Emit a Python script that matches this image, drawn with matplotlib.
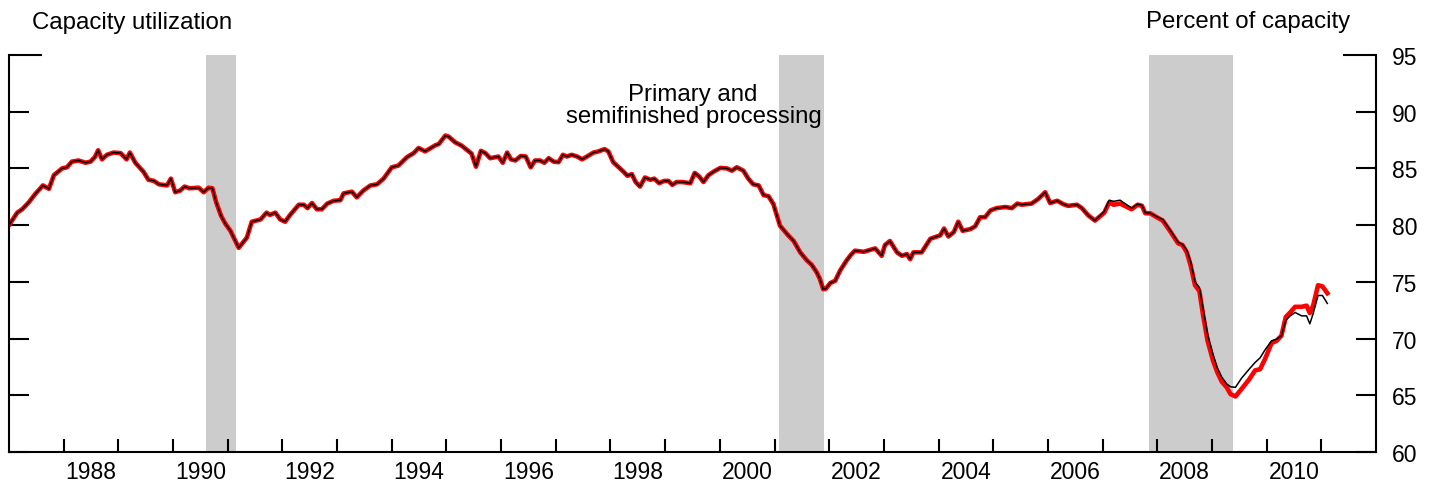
import numpy as np
import matplotlib.pyplot as plt

# capacity utilization, primary and semifinished processing (percent)
dates = [
    1987.00, 1987.15, 1987.24, 1987.36, 1987.48, 1987.62, 1987.73, 1987.82, 1987.97,
    1988.06, 1988.15, 1988.27, 1988.40, 1988.49, 1988.57, 1988.63, 1988.70, 1988.79, 1988.91,
    1989.04, 1989.15, 1989.21, 1989.31, 1989.46, 1989.55, 1989.65, 1989.74, 1989.89, 1989.96,
    1990.04, 1990.13, 1990.21, 1990.30, 1990.47, 1990.56, 1990.65, 1990.72, 1990.79, 1990.88, 1990.96,
    1991.05, 1991.20, 1991.35, 1991.44, 1991.60, 1991.71, 1991.77, 1991.87, 1991.96,
    1992.05, 1992.14, 1992.30, 1992.39, 1992.46, 1992.54, 1992.63, 1992.72, 1992.82, 1992.94,
    1993.06, 1993.12, 1993.27, 1993.36, 1993.48, 1993.61, 1993.73, 1993.85,
    1994.00, 1994.12, 1994.28, 1994.40, 1994.49, 1994.61, 1994.80, 1994.86, 1994.98,
    1995.04, 1995.16, 1995.28, 1995.46, 1995.54, 1995.63, 1995.71, 1995.80, 1995.95,
    1996.03, 1996.11, 1996.18, 1996.26, 1996.36, 1996.45, 1996.54, 1996.62, 1996.71, 1996.79, 1996.87, 1996.96,
    1997.05, 1997.13, 1997.20, 1997.29, 1997.39, 1997.48, 1997.57, 1997.69, 1997.78, 1997.89, 1997.96,
    1998.05, 1998.15, 1998.24, 1998.31, 1998.39, 1998.46, 1998.54, 1998.63, 1998.73, 1998.80, 1998.89, 1998.98,
    1999.06, 1999.13, 1999.21, 1999.31, 1999.46, 1999.54, 1999.62, 1999.70, 1999.79, 1999.88,
    2000.01, 2000.13, 2000.22, 2000.31, 2000.43, 2000.52, 2000.61, 2000.71, 2000.80, 2000.89, 2000.98,
    2001.10, 2001.25, 2001.35, 2001.47, 2001.59, 2001.68, 2001.77, 2001.83, 2001.89, 2001.94,
    2002.02, 2002.11, 2002.20, 2002.32, 2002.40, 2002.47, 2002.63, 2002.84, 2002.96,
    2003.02, 2003.11, 2003.24, 2003.33, 2003.42, 2003.48, 2003.54, 2003.69, 2003.85,
    2004.03, 2004.10, 2004.18, 2004.28, 2004.36, 2004.44, 2004.58, 2004.67, 2004.76, 2004.85, 2004.95,
    2005.06, 2005.22, 2005.34, 2005.44, 2005.52, 2005.70, 2005.82, 2005.95,
    2006.04, 2006.17, 2006.28, 2006.37, 2006.53, 2006.62, 2006.74, 2006.86,
    2007.03, 2007.12, 2007.20, 2007.32, 2007.53, 2007.64, 2007.72, 2007.78, 2007.87, 2007.99,
    2008.10, 2008.23, 2008.38, 2008.46, 2008.54, 2008.61, 2008.69, 2008.77, 2008.84, 2008.92,
    2009.02, 2009.10, 2009.18, 2009.27, 2009.34, 2009.43, 2009.54, 2009.68, 2009.79, 2009.88, 2009.97,
    2010.09, 2010.18, 2010.27, 2010.35, 2010.43, 2010.52, 2010.64, 2010.73, 2010.79, 2010.85, 2010.94,
    2011.02, 2011.11,
]

current = [
    80.0, 81.1, 81.4, 82.0, 82.75, 83.5, 83.2, 84.4, 85.0,
    85.1, 85.6, 85.7, 85.5, 85.6, 86.0, 86.6, 85.8, 86.2, 86.4,
    86.35, 85.8, 86.4, 85.5, 84.7, 84.0, 83.9, 83.6, 83.5, 84.1,
    82.9, 83.05, 83.4, 83.25, 83.3, 82.9, 83.3, 83.25, 82.0, 80.8, 80.1,
    79.5, 78.0, 78.9, 80.3, 80.5, 81.1, 80.9, 81.1, 80.5,
    80.3, 80.9, 81.8, 81.8, 81.5, 81.95, 81.4, 81.4, 81.9, 82.15,
    82.2, 82.8, 82.95, 82.45, 83.05, 83.5, 83.6, 84.1,
    85.1, 85.25, 86.0, 86.35, 86.8, 86.5, 87.05, 87.15, 87.9,
    87.8, 87.3, 87.0, 86.3, 85.15, 86.55, 86.35, 85.9, 86.05,
    85.5, 86.4, 85.8, 85.7, 86.1, 86.05, 85.1, 85.7, 85.7, 85.5, 85.9, 85.6,
    85.55, 86.2, 86.05, 86.2, 86.05, 85.8, 86.05, 86.4, 86.5, 86.7, 86.5,
    85.55, 85.1, 84.7, 84.35, 84.5, 83.8, 83.4, 84.2, 84.0, 84.1, 83.7, 83.9,
    83.9, 83.55, 83.8, 83.8, 83.7, 84.6, 84.3, 83.8, 84.4, 84.7,
    85.05, 85.0, 84.8, 85.1, 84.8, 84.1, 83.6, 83.5, 82.65, 82.55, 81.85,
    79.95, 79.1, 78.6, 77.6, 76.9, 76.5, 75.85, 75.25, 74.35, 74.4,
    74.9, 75.1, 76.0, 76.9, 77.4, 77.75, 77.65, 77.95, 77.3,
    78.25, 78.6, 77.6, 77.3, 77.45, 77.0, 77.6, 77.6, 78.8,
    79.1, 79.7, 79.0, 79.4, 80.3, 79.5, 79.65, 79.9, 80.7, 80.7, 81.3,
    81.5, 81.6, 81.5, 81.9, 81.8, 81.9, 82.3, 82.9,
    81.95, 82.15, 81.85, 81.7, 81.8, 81.5, 80.85, 80.4,
    81.1, 82.0, 81.8, 81.9, 81.4, 81.8, 81.7, 81.05, 81.05, 80.7,
    80.4, 79.5, 78.4, 78.25, 77.6, 76.45, 74.7, 74.2, 72.0, 69.8,
    68.05, 67.0, 66.2, 65.7, 65.1, 64.9, 65.55, 66.4, 67.2, 67.3, 68.2,
    69.6, 69.8, 70.25, 71.9, 72.3, 72.8, 72.8, 72.9, 72.25, 72.9, 74.7,
    74.6, 74.0,
]

# earlier estimate, from 2007 on (same as current before that)
prior_tail = [
    81.2, 82.2, 82.1, 82.2, 81.5, 81.85, 81.75, 81.1, 81.05, 80.75,
    80.5, 79.6, 78.5, 78.3, 77.8, 76.8, 75.0, 74.5, 72.6, 70.4,
    68.6, 67.4, 66.6, 66.0, 65.75, 65.7, 66.5, 67.3, 67.9, 68.3, 69.0,
    69.8, 69.95, 70.25, 71.6, 72.0, 72.3, 72.0, 72.0, 71.3, 72.2, 73.8,
    73.8, 73.1,
]

rec_start = [1990.60, 2001.09, 2007.84]
rec_end = [1991.16, 2001.91, 2009.39]

tick_years = list(range(1988, 2012))
label_years = list(range(1988, 2011, 2))
yticks = [60, 65, 70, 75, 80, 85, 90, 95]

prior = current[:len(current) - len(prior_tail)] + prior_tail

plt.rcParams['font.family'] = ['Liberation Sans', 'DejaVu Sans']
fs = 16.5
fs_text = 17.3

fig = plt.figure(figsize=(14.39, 4.85), dpi=100)
W, H = 1439, 485
ax = fig.add_axes([9 / W, 1 - 453 / H, (1376 - 9) / W, (453 - 56) / H])

for s, e in zip(rec_start, rec_end):
    ax.axvspan(s, e, color='#cccccc', lw=0, zorder=0)

ax.plot(dates, current, color='#ff0000', lw=3.3, zorder=2, solid_joinstyle='round')
ax.plot(dates, prior, color='black', lw=1.1, zorder=3)

ax.set_xlim(1987, 2012)
ax.set_ylim(60, 95)

for side in ['left', 'right', 'bottom']:
    ax.spines[side].set_linewidth(1.5)
ax.spines['top'].set_visible(False)

ax.set_yticks(yticks)
ax.tick_params(axis='y', direction='in', length=14.4, width=1.5, left=True, right=True,
               labelleft=False, labelright=True, labelsize=fs, pad=11.5)
top_tick = ax.yaxis.get_major_ticks()[-1]
top_tick.tick1line.set_markersize(23.5)
top_tick.tick2line.set_markersize(23.5)

ax.set_xticks(tick_years)
ax.set_xticklabels([])
ax.set_xticks([y + 0.5 for y in label_years], minor=True)
ax.set_xticklabels([str(y) for y in label_years], minor=True)
ax.tick_params(axis='x', which='major', direction='in', length=9.4, width=1.5)
ax.tick_params(axis='x', which='minor', length=0, labelsize=fs, pad=5.5)

fig.text(31.7 / W, 1 - 29 / H, 'Capacity utilization', fontsize=fs_text, ha='left', va='baseline')
fig.text(1350 / W, 1 - 28 / H, 'Percent of capacity', fontsize=fs_text, ha='right', va='baseline')
fig.text(693 / W, 1 - 101.5 / H, 'Primary and', fontsize=fs_text, ha='center', va='baseline')
fig.text(694 / W, 1 - 123 / H, 'semifinished processing', fontsize=fs_text, ha='center', va='baseline')

fig.savefig('out.png', dpi=100)
